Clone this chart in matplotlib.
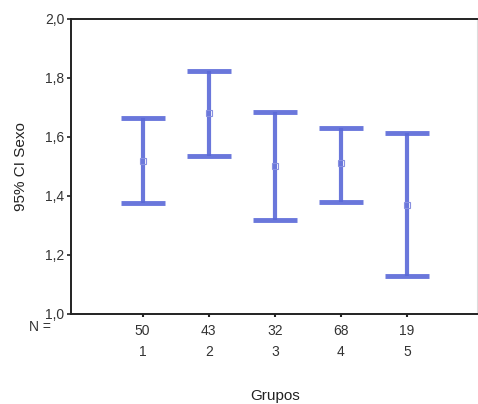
import matplotlib
matplotlib.use("Agg")
import matplotlib.pyplot as plt
import matplotlib.transforms as mtransforms

groups = ["1", "2", "3", "4", "5"]
n_values = ["50", "43", "32", "68", "19"]
means = [1.52, 1.68, 1.50, 1.51, 1.37]
upper = [1.665, 1.825, 1.685, 1.630, 1.615]
lower = [1.375, 1.535, 1.320, 1.380, 1.130]
yticks = [1.0, 1.2, 1.4, 1.6, 1.8, 2.0]
ytick_labels = ["1,0", "1,2", "1,4", "1,6", "1,8", "2,0"]

plt.rcParams['font.family'] = ['Liberation Sans', 'DejaVu Sans']
fig = plt.figure(figsize=(4.78, 4.04), dpi=100)
ax = fig.add_axes([0.149, 0.223, 0.849, 0.730])

blue = '#5a68d8'
xs = list(range(1, len(groups) + 1))
for x, m, u, l in zip(xs, means, upper, lower):
    ax.errorbar([x], [m], yerr=[[m - l], [u - m]], fmt='none', ecolor=blue,
                elinewidth=3, capsize=16, capthick=3.5, alpha=0.9)
    ax.plot([x], [m], marker='s', markersize=5, markerfacecolor='none',
            markeredgecolor='#8890e0', markeredgewidth=0.8)

ax.set_xlim(-0.08, 6.06)
ax.set_ylim(1.0, 2.0)
ax.set_yticks(yticks)
ax.set_yticklabels(ytick_labels, fontsize=10, color='#333333')
ax.set_xticks(xs)
ax.set_xticklabels(n_values, fontsize=10, color='#333333')
ax.tick_params(axis='y', length=3, width=1.2, color='#222222', pad=2)
ax.tick_params(axis='x', length=2, width=1.5, color='#222222', pad=5)

for s in ['left', 'bottom', 'top']:
    ax.spines[s].set_linewidth(1.4)
    ax.spines[s].set_color('#222222')
ax.spines['right'].set_linewidth(0.8)
ax.spines['right'].set_color('#dddddd')

ax.set_ylabel('95% CI Sexo', fontsize=11, color='#222222', labelpad=12)

trans = mtransforms.blended_transform_factory(ax.transData, fig.transFigure)
for x, g in zip(xs, groups):
    ax.text(x, 1 - 352 / 404, g, transform=trans, ha='center', va='center',
            fontsize=10, color='#333333')
fig.text(40 / 478, 1 - 327 / 404, 'N =', ha='center', va='center',
         fontsize=10, color='#333333')
fig.text(275 / 478, 1 - 396 / 404, 'Grupos', ha='center', va='center',
         fontsize=11, color='#222222')

fig.savefig('out.png', dpi=100)
